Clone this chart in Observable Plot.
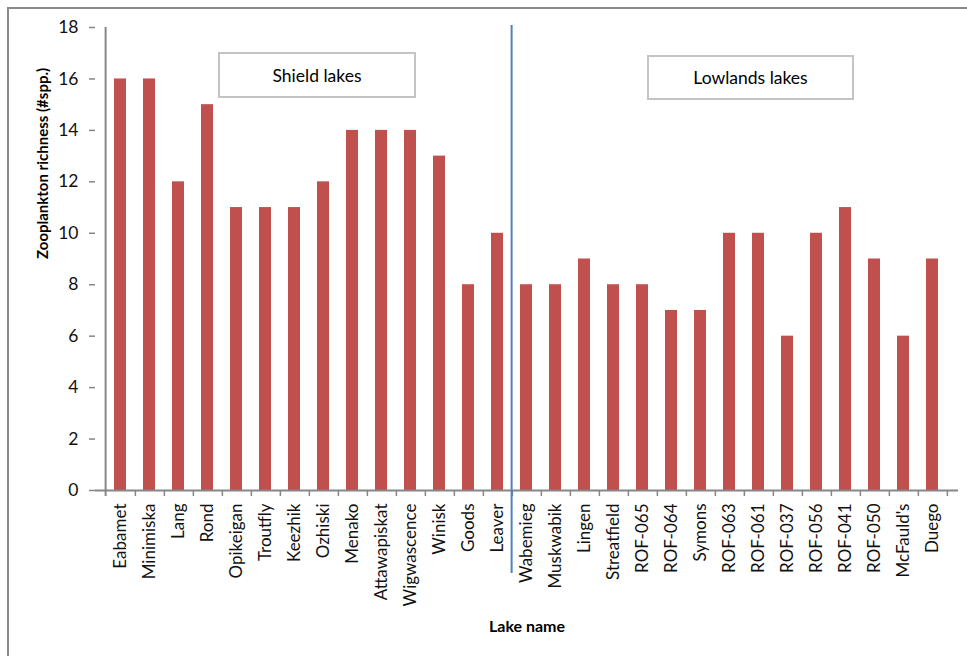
<!DOCTYPE html>
<html>
<head>
<meta charset="utf-8">
<script src="https://cdn.jsdelivr.net/npm/d3@7"></script>
<script src="https://cdn.jsdelivr.net/npm/@observablehq/plot@0.6"></script>
<style>
  html, body { margin: 0; padding: 0; background: #fff; }
  #wrap { position: relative; width: 967px; height: 656px; overflow: hidden; font-family: Lato, "Open Sans", sans-serif; }
  #border { position: absolute; left: 7px; top: 7px; width: 2000px; height: 2000px; border-left: 2px solid #8a8a8a; border-top: 2px solid #8a8a8a; box-sizing: border-box; }
  .gbox { position: absolute; border: 2px solid #c4c4c4; background: #fff; box-sizing: border-box; display: flex; align-items: center; justify-content: center; font-size: 17.5px; color: #000; }
  #chart { position: absolute; left: 0; top: 0; }
</style>
</head>
<body>
<div id="wrap">
  <div id="border"></div>
  <div id="chart"></div>
</div>
<script>
const lakes = ["Eabamet","Minimiska","Lang","Rond","Opikeigan","Troutfly","Keezhik","Ozhiski","Menako","Attawapiskat","Wigwascence","Winisk","Goods","Leaver","Wabemieg","Muskwabik","Lingen","Streatfield","ROF-065","ROF-064","Symons","ROF-063","ROF-061","ROF-037","ROF-056","ROF-041","ROF-050","McFauld's","Duego"];
const richness = [16,16,12,15,11,11,11,12,14,14,14,13,8,10,8,8,9,8,8,7,7,10,10,6,10,11,9,6,9];
const groupNames = ["Shield lakes","Lowlands lakes"];
const firstLowland = "Wabemieg";
const yTicks = [0,2,4,6,8,10,12,14,16,18];
const yTitle = "Zooplankton richness (#spp.)";
const xTitle = "Lake name";

const data = lakes.map((lake, i) => ({lake, value: richness[i]}));

const W = 967, H = 656, ML = 95, MR = 9, MT = 27, MB = 166;
const step = (W - ML - MR) / lakes.length;
const axisGray = "#868686";
const font = "Lato, 'Open Sans', sans-serif";

const chart = Plot.plot({
  width: W, height: H,
  marginLeft: ML, marginRight: MR, marginTop: MT, marginBottom: MB,
  style: {fontFamily: font, fontSize: "17px", color: "#000", background: "transparent"},
  x: {domain: lakes, paddingInner: 0.58, paddingOuter: 0.29, label: null},
  y: {domain: [0, 18], label: null},
  marks: [
    Plot.barY(data, {x: "lake", y: "value", fill: "#C0504D"}),
    Plot.ruleY([0], {stroke: axisGray, strokeWidth: 2}),
    Plot.ruleX([lakes[0]], {dx: -step / 2, stroke: axisGray, strokeWidth: 2, insetBottom: -6}),
    Plot.axisX({tickSize: 6, dx: step / 2, text: null, stroke: axisGray, strokeWidth: 1.5}),
    Plot.axisX({tickSize: 0, tickPadding: 13, tickRotate: -90, fontSize: 17, fill: "#111", label: null}),
    Plot.axisY({ticks: yTicks, tickSize: 6, tickPadding: 11, stroke: axisGray, strokeWidth: 1.5, fontSize: 17.5, fill: "#111", label: null}),
    Plot.ruleX([firstLowland], {dx: -step / 2, stroke: "#4F81BD", strokeWidth: 2, insetTop: -2, insetBottom: -83}),
    Plot.text([yTitle], {text: d => d, frameAnchor: "left", rotate: -90, dx: -52, fontWeight: "bold", fontSize: 15, fill: "#000"}),
    Plot.text([xTitle], {text: d => d, frameAnchor: "bottom", dy: 141, fontWeight: "bold", fontSize: 16, fill: "#000"})
  ]
});
document.getElementById("chart").appendChild(chart);

const boxes = [
  {name: groupNames[0], left: 218, top: 52, width: 198, height: 46},
  {name: groupNames[1], left: 647, top: 55, width: 207, height: 45}
];
const wrap = document.getElementById("wrap");
for (const b of boxes) {
  const d = document.createElement("div");
  d.className = "gbox";
  d.style.left = b.left + "px"; d.style.top = b.top + "px";
  d.style.width = b.width + "px"; d.style.height = b.height + "px";
  d.textContent = b.name;
  wrap.appendChild(d);
}
</script>
</body>
</html>
